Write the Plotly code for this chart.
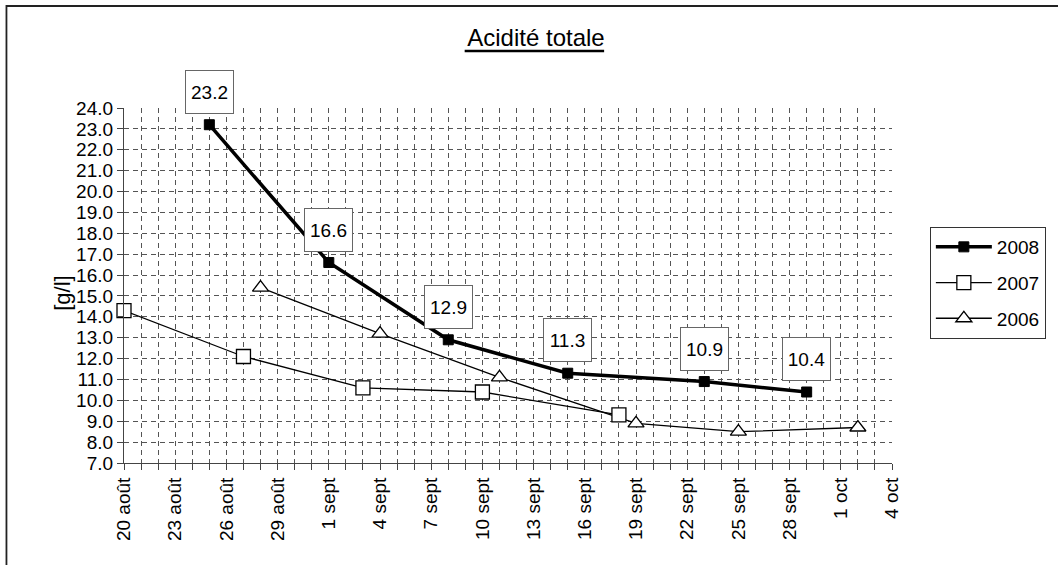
import plotly.graph_objects as go

# ---- data ----
dates_2008 = ["2008-08-25", "2008-09-01", "2008-09-08", "2008-09-15", "2008-09-23", "2008-09-29"]
vals_2008 = [23.2, 16.6, 12.9, 11.3, 10.9, 10.4]

dates_2007 = ["2008-08-20", "2008-08-27", "2008-09-03", "2008-09-10", "2008-09-18"]
vals_2007 = [14.3, 12.1, 10.6, 10.4, 9.3]

dates_2006 = ["2008-08-28", "2008-09-04", "2008-09-11", "2008-09-19", "2008-09-25", "2008-10-02"]
vals_2006 = [15.4, 13.2, 11.1, 8.9, 8.5, 8.7]

tick_dates = ["2008-08-20", "2008-08-23", "2008-08-26", "2008-08-29", "2008-09-01",
              "2008-09-04", "2008-09-07", "2008-09-10", "2008-09-13", "2008-09-16",
              "2008-09-19", "2008-09-22", "2008-09-25", "2008-09-28", "2008-10-01",
              "2008-10-04"]
tick_labels = ["20 août", "23 août", "26 août", "29 août", "1 sept", "4 sept", "7 sept",
               "10 sept", "13 sept", "16 sept", "19 sept", "22 sept", "25 sept",
               "28 sept", "1 oct", "4 oct"]

title_text = "Acidité totale"
y_title = "[g/l]"

FONT = "Liberation Sans, Arial, sans-serif"
W, H = 1058, 565
L, R, T, B = 124, 163, 108, 102
PW, PH = W - L - R, H - T - B


def px_x(p):
    return (p - L) / PW


def px_y(p):
    return (H - B - p) / PH


fig = go.Figure()

fig.add_trace(go.Scatter(
    x=dates_2006, y=vals_2006, name="2006", mode="lines+markers",
    legendgroup="g2006", legendrank=3,
    line=dict(color="black", width=1.3),
    marker=dict(symbol="triangle-up", size=14, color="white",
                line=dict(color="black", width=1.3)),
    cliponaxis=False,
))
fig.add_trace(go.Scatter(
    x=dates_2007, y=vals_2007, name="2007", mode="lines+markers",
    legendgroup="g2007", legendrank=2,
    line=dict(color="black", width=1.3),
    marker=dict(symbol="square", size=14, color="white",
                line=dict(color="black", width=1.3)),
    cliponaxis=False,
))
fig.add_trace(go.Scatter(
    x=dates_2008, y=vals_2008, name="2008", mode="lines+markers",
    legendgroup="g2008", legendrank=1,
    line=dict(color="black", width=3.5),
    marker=dict(symbol="square", size=10, color="black",
                line=dict(color="black", width=1)),
    cliponaxis=False,
))

annotations = []
for d, v in zip(dates_2008, vals_2008):
    annotations.append(dict(
        x=d, y=v, xref="x", yref="y", text=f"{v:.1f}", showarrow=False,
        yshift=33, width=47, height=42, bgcolor="white",
        bordercolor="#666666", borderwidth=1, borderpad=0,
        font=dict(family=FONT, size=19, color="black"),
    ))

annotations.append(dict(
    x=px_x(47), y=px_y(293), xref="paper", yref="paper", text=y_title,
    showarrow=False, textangle=-90,
    font=dict(family=FONT, size=22, color="black"),
))

grid_color = "#555555"

fig.update_layout(
    width=W, height=H,
    margin=dict(l=L, r=R, t=T, b=B),
    paper_bgcolor="white", plot_bgcolor="white",
    font=dict(family=FONT, size=19, color="black"),
    title=dict(text=title_text, x=536 / W, xref="container",
               xanchor="center", y=1 - 38 / H, yref="container", yanchor="middle",
               font=dict(family=FONT, size=24, color="black")),
    showlegend=True,
    legend=dict(x=px_x(933), y=px_y(227), xanchor="left", yanchor="top",
                traceorder="grouped", tracegroupgap=8, itemwidth=56,
                bordercolor="#333333", borderwidth=1, bgcolor="white",
                font=dict(family=FONT, size=19, color="black")),
    annotations=annotations,
    shapes=[
        dict(type="rect", xref="paper", yref="paper",
             x0=px_x(6), x1=px_x(1080), y0=px_y(600), y1=px_y(6),
             line=dict(color="#222222", width=1.8), layer="below"),
        dict(type="line", xref="paper", yref="paper",
             x0=px_x(466), x1=px_x(606), y0=px_y(51), y1=px_y(51),
             line=dict(color="black", width=2.5)),
    ],
    hovermode=False,
)

fig.update_xaxes(
    type="date", range=["2008-08-20", "2008-10-04"],
    tickmode="array", tickvals=tick_dates, ticktext=tick_labels,
    tickangle=-90, tickfont=dict(family=FONT, size=19, color="black"),
    showline=True, linecolor="#444444", linewidth=1.2,
    ticks="outside", ticklen=6, tickcolor="#444444",
    showgrid=True, gridcolor=grid_color, griddash="5px,4px", gridwidth=1,
    minor=dict(dtick=86400000, tick0="2008-08-20", showgrid=True,
               gridcolor=grid_color, griddash="5px,4px", gridwidth=1,
               ticks="outside", ticklen=6, tickcolor="#444444"),
    zeroline=False,
)

fig.update_yaxes(
    range=[7, 24], dtick=1, tick0=7, tickformat=".1f",
    tickfont=dict(family=FONT, size=19, color="black"),
    showline=True, linecolor="#444444", linewidth=1.2,
    ticks="outside", ticklen=6, tickcolor="#444444",
    showgrid=True, gridcolor=grid_color, griddash="5px,4px", gridwidth=1,
    zeroline=False,
)

fig.write_html("out.html", config={"displayModeBar": False},
               post_script="document.body.style.margin='0';document.body.style.overflow='hidden';")
